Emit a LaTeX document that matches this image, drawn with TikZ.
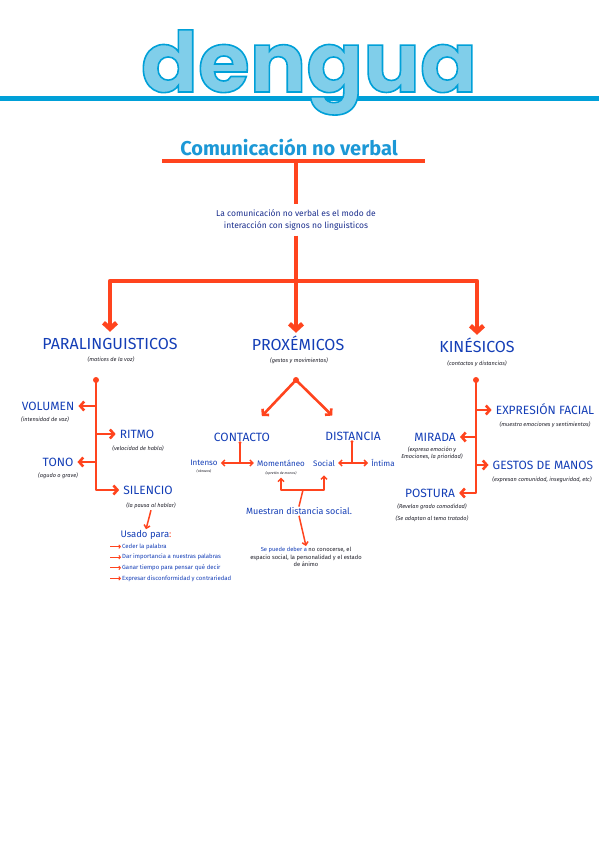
\documentclass[tikz,border=0pt]{standalone}
\usepackage{fontspec}
\setmainfont{Fira Sans}
\newfontfamily\titlefont{Poppins}
\usepackage{xcolor}
\definecolor{lenguaclaro}{RGB}{128,206,234}
\definecolor{lenguaazul}{RGB}{0,160,216}
\definecolor{subazul}{RGB}{28,152,214}
\definecolor{rojo}{RGB}{255,68,30}
\definecolor{azulrey}{RGB}{20,62,182}
\definecolor{azulosc}{RGB}{25,45,140}
\definecolor{tinta}{RGB}{30,30,40}
\usetikzlibrary{positioning, arrows.meta, calc}
\newcommand{\contorno}[1]{\special{pdf:literal direct 2 Tr 1.6 w 0 0.627 0.847 RG}#1\special{pdf:literal direct 0 Tr}}

\begin{document}
\begin{tikzpicture}[x=1pt, y=-1pt,
    titulo/.style={font=\titlefont\bfseries\fontsize{84}{84}\selectfont, inner sep=0pt, anchor=base},
    subtitulo/.style={font=\bfseries\fontsize{20}{24}\selectfont, text=subazul, inner sep=1pt},
    tipo/.style={font=\fontsize{16}{18}\selectfont, text=azulrey, inner sep=1pt, text height=12pt, text depth=0pt},
    rama/.style={font=\fontsize{12}{14}\selectfont, text=azulrey, inner sep=1pt, text height=9pt, text depth=0pt},
    hoja/.style={font=\fontsize{8}{9}\selectfont, text=azulrey, inner sep=1pt},
    nota/.style={font=\itshape\fontsize{5.6}{7.5}\selectfont, text=tinta, align=center, inner sep=1pt},
    mini/.style={font=\itshape\fontsize{3.5}{4}\selectfont, text=tinta, inner sep=0.5pt},
    texto/.style={font=\fontsize{8.5}{12}\selectfont, text=azulosc, align=center, inner sep=5pt},
    tronco/.style={draw=rojo, line width=4.5pt},
    flecha/.style={draw=rojo, line width=4.5pt, line join=round, -{Straight Barb[length=6pt, width=13pt]}},
    linea/.style={draw=rojo, line width=2.6pt, line join=round, line cap=round},
    flechita/.style={draw=rojo, line width=2.6pt, line join=round, -{Straight Barb[length=4pt, width=9pt]}},
    punta/.style={draw=rojo, line width=1.5pt, line join=round, -{Straight Barb[length=3pt, width=6pt]}},
  ]
  \useasboundingbox (0,0) rectangle (599,848);

  % Titulo
  \draw[lenguaazul, line width=5pt] (0,99) -- (599,99);
  \node[titulo, text=lenguaclaro] (titulo) at (309,92) {\contorno{dengua}};

  \node[subtitulo] (comunicacion) at (289,147) {Comunicación no verbal};
  \coordinate (raya) at (296,161);
  \draw[tronco] (162,161) -- (425,161);

  \node[texto] (definicion) at (296,220) {La comunicación no verbal es el modo de\\interacción con signos no linguisticos};
  \coordinate (cruce) at (296,281);
  \draw[tronco] (raya) -- (definicion.north);
  \draw[tronco] (definicion.south) -- (cruce);

  % Tres tipos
  \node[tipo] (para) at (110,343) {PARALINGUISTICOS};
  \node[nota] (para-n) at (111,360) {(matices de la voz)};
  \node[tipo] (prox) at (298,344) {PROXÉMICOS};
  \node[nota] (prox-n) at (299,361) {(gestos y movimientos)};
  \node[tipo] (kine) at (477,346) {KINÉSICOS};
  \node[nota] (kine-n) at (477,364) {(contactos y distancias)};

  \draw[flecha, shorten >=4pt] (cruce) -| (para.north);
  \draw[flecha, shorten >=4pt] (cruce) -- (cruce |- prox.north);
  \draw[flecha, shorten >=4pt] (cruce) -| (kine.north);

  % Paralinguisticos
  \coordinate (p0) at (96,380);
  \node[rama] (volumen) at (48,406) {VOLUMEN};
  \node[nota] at (45,420) {(intensidad de voz)};
  \node[rama] (ritmo) at (137,434) {RITMO};
  \node[nota] at (138,449) {(velocidad de habla)};
  \node[rama] (tono) at (58,462) {TONO};
  \node[nota] at (58,476) {(agudo o grave)};
  \node[rama] (silencio) at (148,490) {SILENCIO};
  \node[nota] (silencio-n) at (151,506) {(la pausa al hablar)};

  \fill[rojo] (p0) circle (3pt);
  \draw[flechita, shorten >=3pt] (p0) |- (silencio.west);
  \draw[flechita, shorten >=3pt] (p0 |- volumen.east) -- (volumen.east);
  \draw[flechita, shorten >=3pt] (p0 |- ritmo.west) -- (ritmo.west);
  \draw[flechita, shorten >=3pt] (p0 |- tono.east) -- (tono.east);

  \node[hoja, font=\fontsize{9.5}{11}\selectfont] (usado) at (146,535) {Usado para\textcolor{rojo}{:}};
  \draw[punta] (silencio-n.south) -- (usado.north);
  \foreach \uso [count=\i] in {Ceder la palabra, Dar importancia a nuestras palabras,
      Ganar tiempo para pensar qué decir, Expresar disconformidad y contrariedad}{
    \node[hoja, font=\fontsize{6}{7}\selectfont, anchor=west] (uso\i) at (121,536+10.6*\i) {\uso};
    \draw[rojo, line width=1pt, -{Straight Barb[length=1.5pt, width=3.5pt]}] ([xshift=-11pt]uso\i.west) -- (uso\i.west);
  }

  % Proxemicos
  \coordinate (x0) at (296,380);
  \node[rama] (contacto) at (242,437) {CONTACTO};
  \node[rama] (distancia) at (353,436) {DISTANCIA};
  \fill[rojo] (x0) circle (3pt);
  \draw[flechita, shorten >=21pt] (x0) -- (contacto);
  \draw[flechita, shorten >=21pt] (x0) -- (distancia);

  \node[hoja] (intenso) at (204,463) {Intenso};
  \node[mini] at (204,471) {(abrazos)};
  \node[hoja] (momentaneo) at (281,463) {Momentáneo};
  \node[mini] (momentaneo-n) at (281,473) {(apretón de manos)};
  \node[hoja] (social) at (324,463) {Social};
  \node[hoja] (intima) at (383,463) {Íntima};

  \coordinate (c0) at (240,463);
  \coordinate (d0) at (352,463);
  \draw[punta, {Straight Barb[length=3pt, width=6pt]}-{Straight Barb[length=3pt, width=6pt]}, shorten <=2pt, shorten >=2pt] (intenso) -- (momentaneo);
  \draw[linea, line width=1.5pt] (c0) -- (c0 |- contacto.south);
  \fill[rojo] (c0 |- contacto.south) circle (1.6pt);
  \draw[punta, {Straight Barb[length=3pt, width=6pt]}-{Straight Barb[length=3pt, width=6pt]}, shorten <=2pt, shorten >=2pt] (social) -- (intima);
  \draw[linea, line width=1.5pt] (d0) -- (d0 |- distancia.south);
  \fill[rojo] (d0 |- distancia.south) circle (1.6pt);

  \node[hoja, font=\fontsize{9}{11}\selectfont] (muestran) at (299,511) {Muestran distancia social.};
  \coordinate (union) at (303,490);
  \draw[punta, shorten >=2pt] (union) -| (momentaneo-n.south);
  \draw[punta, shorten >=8pt] (union) -| (social.south);
  \draw[linea, line width=1.5pt] (union) -- (muestran.north);

  \node[nota, font=\fontsize{5.8}{7.5}\selectfont, text=tinta] (deber) at (306,557)
    {\textcolor{azulrey}{Se puede deber a} no conocerse, el\\espacio social, la personalidad y el estado\\de ánimo};
  \draw[punta] (muestran.south) -- (deber.north);

  % Kinesicos
  \coordinate (k0) at (476,380);
  \node[rama] (facial) at (545,410) {EXPRESIÓN FACIAL};
  \node[nota] at (545,425) {(muestra emociones y sentimientos)};
  \node[rama] (mirada) at (435,437) {MIRADA};
  \node[nota] at (432,453) {(expresa emoción y\\Emociones, la prioridad)};
  \node[rama] (manos) at (543,465) {GESTOS DE MANOS};
  \node[nota] at (542,480) {(expresan comunidad, inseguridad, etc)};
  \node[rama] (postura) at (430,493) {POSTURA};
  \node[nota] at (432,507) {(Revelan grado comodidad)};
  \node[nota] at (432,519) {(Se adaptan al tema tratado)};

  \fill[rojo] (k0) circle (3pt);
  \draw[flechita, shorten >=3pt] (k0) |- (postura.east);
  \draw[flechita, shorten >=3pt] (k0 |- facial.west) -- (facial.west);
  \draw[flechita, shorten >=3pt] (k0 |- mirada.east) -- (mirada.east);
  \draw[flechita, shorten >=3pt] (k0 |- manos.west) -- (manos.west);
\end{tikzpicture}
\end{document}
